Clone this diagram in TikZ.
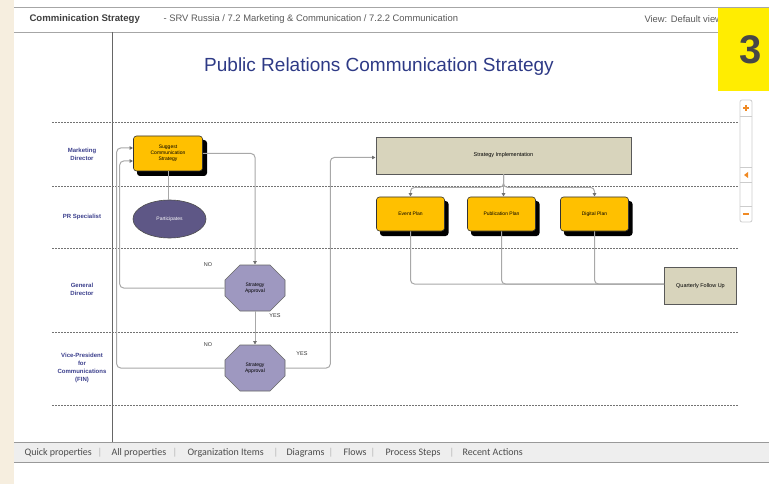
\documentclass[tikz,border=0pt]{standalone}
\usepackage{fontspec}
\setmainfont{Liberation Sans}
\newfontfamily\carl{Carlito}
\usetikzlibrary{shapes.geometric,shapes.misc,arrows.meta,calc}
\definecolor{beige}{HTML}{F6EEDF}
\definecolor{ttl}{HTML}{2E3A86}
\definecolor{lane}{HTML}{3B3F8C}
\definecolor{yel}{HTML}{FFC000}
\definecolor{khaki}{HTML}{D8D4BC}
\definecolor{dpurp}{HTML}{5E5786}
\definecolor{lpurp}{HTML}{9E98C0}
\definecolor{conn}{HTML}{A8A8A8}
\definecolor{tip}{HTML}{707070}
\definecolor{bar}{HTML}{EEEEEE}
\definecolor{orng}{HTML}{F08A24}
\tikzset{
  yelbox/.style={rectangle,rounded corners=3pt,fill=yel,draw=black!80,line width=0.6pt,
     align=center,font=\fontsize{5}{5.8}\selectfont,inner sep=1pt},
  shadowbox/.style={fill=black,rounded corners=3pt},
  khbox/.style={rectangle,fill=khaki,draw=black!65,line width=0.8pt,font=\fontsize{5.5}{6}\selectfont},
  octo/.style={chamfered rectangle,chamfered rectangle xsep=15pt,chamfered rectangle ysep=12pt,
     fill=lpurp,draw=black!60,line width=0.6pt,minimum width=60pt,minimum height=46pt,inner sep=0pt,
     align=center,font=\fontsize{5}{5.8}\selectfont},
  lanelbl/.style={align=center,text=lane,font=\bfseries\fontsize{6}{8}\selectfont},
  flowlbl/.style={font=\fontsize{5.5}{6}\selectfont,text=black!80},
  cn/.style={draw=conn,line width=1pt,rounded corners=4pt},
  cna/.style={cn,-{Latex[length=3.5pt,width=4pt,color=tip]}},
  lanesep/.style={draw=black!55,line width=0.8pt,dash pattern=on 2pt off 1pt},
  tab/.style={font=\carl\fontsize{10}{10}\selectfont,text=black!70,anchor=base west},
  tsep/.style={font=\carl\fontsize{10}{10}\selectfont,text=black!30,anchor=base}
}
\begin{document}
\begin{tikzpicture}[x=1pt,y=-1pt]
\useasboundingbox (0,0) rectangle (769,484);
\fill[white] (0,0) rectangle (769,484);
\fill[beige] (0,0) rectangle (14,484);
% top bar
\draw[black!35,line width=0.8pt] (14,7.5) -- (769,7.5);
\draw[black!35,line width=0.8pt] (14,32) -- (769,32);
\node[anchor=west,font=\bfseries\fontsize{9.6}{10}\selectfont,text=black!75] (apptitle) at (26,19) {Comminication Strategy};
\node[anchor=west,font=\fontsize{9.4}{10}\selectfont,text=black!65] (path) at (160,19) {- SRV Russia / 7.2 Marketing \& Communication / 7.2.2 Communication};
\node[anchor=west,font=\fontsize{9.4}{10}\selectfont,text=black!65] (view) at (641,19) {View: Default view};
% yellow badge
\fill[yellow!95!orange] (718,8) rectangle (769,91);
\node[font=\bfseries\fontsize{40}{40}\selectfont,text=black!72] (three) at (751,50) {3};
% divider
\draw[black!60,line width=1pt] (112,32) -- (112,442);
% title
\node[font=\fontsize{19}{19}\selectfont,text=ttl] (title) at (379,66.5) {Public Relations Communication Strategy};
% lanes
\foreach \y in {122,186,248,332,405} \draw[lanesep] (52,\y) -- (738,\y);
\node[lanelbl] (l1) at (82,154) {Marketing\\Director};
\node[lanelbl] (l2) at (82,217) {PR Specialist};
\node[lanelbl] (l3) at (82,289) {General\\Director};
\node[lanelbl] (l4) at (82,368) {Vice-President\\for\\Communications\\(FIN)};
% nodes
\fill[shadowbox] (137,140) rectangle (207,176);
\node[yelbox,minimum width=69pt,minimum height=35pt] (sug) at (168,153.5) {Suggest\\Communication\\Strategy};
\node[ellipse,fill=dpurp,draw=black!70,line width=0.6pt,minimum width=73pt,minimum height=38pt,
  text=white,font=\fontsize{5}{6}\selectfont] (part) at (169.5,219) {Participates};
\node[octo] (oct1) at (255,288) {Strategy\\Approval};
\node[octo] (oct2) at (255,368) {Strategy\\Approval};
\node[khbox,minimum width=255pt,minimum height=37pt] (impl) at (503.5,155.5) {Strategy Implementation};
\foreach \cx in {410.5,501.5,594.5}{
  \fill[shadowbox] (\cx-30.5,201) rectangle (\cx+38,236);
}
\node[yelbox,minimum width=68pt,minimum height=34pt] (ev) at (410.5,214) {Event Plan};
\node[yelbox,minimum width=68pt,minimum height=34pt] (pub) at (501.5,214) {Publication Plan};
\node[yelbox,minimum width=68pt,minimum height=34pt] (dig) at (594.5,214) {Digital Plan};
\node[khbox,minimum width=72pt,minimum height=37pt] (qfu) at (700.5,286) {Quarterly Follow Up};
% connectors
\draw[cna] (sug.east) -| (oct1.north);
\draw[cn] (sug.south) -- (sug.south |- part.north);
\draw[cna] (oct1.west) -- ++(-105,0) |- ([yshift=-7.5pt]sug.west);
\draw[cna] (oct2.west) -- ++(-108,0) |- ([yshift=5.5pt]sug.west);
\draw[cna] (oct1.south) -- (oct2.north);
\draw[cna] (oct2.east) -- ++(45,0) |- ([yshift=-2pt]impl.west);
\draw[cna] (impl.south) -- ++(0,13) -| (ev.north);
\draw[cna] (impl.south) -- ++(0,13) -| (dig.north);
\draw[cna] (impl.south) -- (impl.south |- pub.north);
\draw[cn] (ev.south) |- ([yshift=2pt]qfu.west);
\draw[cn] (pub.south) |- ([yshift=2pt]qfu.west);
\draw[cn] (dig.south) |- ([yshift=2pt]qfu.west);
% labels
\node[flowlbl] (no1) at (208,265) {NO};
\node[flowlbl] (yes1) at (275,316) {YES};
\node[flowlbl] (no2) at (208,345) {NO};
\node[flowlbl] (yes2) at (302,354) {YES};
% scrollbar
\draw[black!20,fill=white,rounded corners=2pt,line width=0.8pt] (740,100) rectangle (752,222);
\draw[black!20,line width=0.6pt] (740,116) -- (752,116);
\draw[black!20,line width=0.6pt] (740,167) -- (752,167);
\draw[black!20,line width=0.6pt] (740,182) -- (752,182);
\draw[black!20,line width=0.6pt] (740,206) -- (752,206);
\draw[orng,line width=1.2pt] (743,108) -- (749,108) (746,105) -- (746,111);
\fill[orng] (744,175) -- (748,172) -- (748,178) -- cycle;
\draw[orng,line width=1.2pt] (743,214) -- (749,214);
% bottom tab bar
\fill[bar] (14,442) rectangle (769,462);
\draw[black!40,line width=0.8pt] (14,442) -- (769,442);
\draw[black!40,line width=0.8pt] (14,462) -- (769,462);
\node[tab] (t1) at (21,455) {Quick properties};
\node[tsep] (s1) at (100,455) {|};
\node[tab] (t2) at (108,455) {All properties};
\node[tsep] (s2) at (175,455) {|};
\node[tab] (t3) at (184,455) {Organization Items};
\node[tsep] (s3) at (276,455) {|};
\node[tab] (t4) at (283,455) {Diagrams};
\node[tsep] (s4) at (331,455) {|};
\node[tab] (t5) at (340,455) {Flows};
\node[tsep] (s5) at (373,455) {|};
\node[tab] (t6) at (382,455) {Process Steps};
\node[tsep] (s6) at (452,455) {|};
\node[tab] (t7) at (459,455) {Recent Actions};
\end{tikzpicture}
\end{document}
